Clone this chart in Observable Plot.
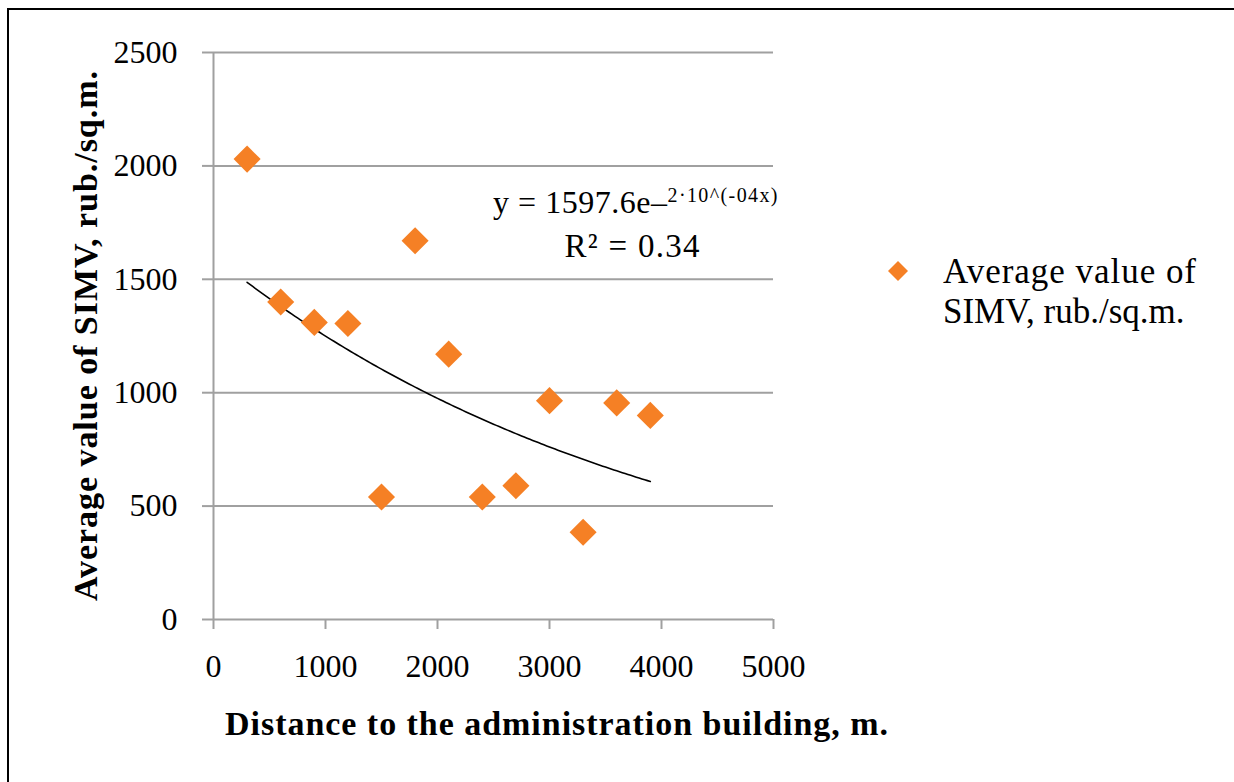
<!DOCTYPE html>
<html><head><meta charset="utf-8">
<script src="https://cdn.jsdelivr.net/npm/d3@7"></script>
<script src="https://cdn.jsdelivr.net/npm/@observablehq/plot@0.6"></script>
<style>
html,body{margin:0;padding:0;background:#fff;overflow:hidden;}
#wrap{position:relative;width:1234px;height:782px;overflow:hidden;}
#frame{position:absolute;left:7px;top:8px;width:1400px;height:1000px;border:2px solid #000;box-sizing:border-box;pointer-events:none;}
#chart{position:absolute;left:0;top:0;}
</style>
</head><body>
<div id="wrap"><div id="frame"></div><div id="chart"></div></div>
<script>
// Data
const distance = [300, 600, 900, 1200, 1500, 1800, 2100, 2400, 2700, 3000, 3300, 3600, 3900];
const simv = [2030, 1400, 1310, 1305, 540, 1670, 1170, 540, 590, 965, 385, 955, 900];
const xTicks = [0, 1000, 2000, 3000, 4000, 5000];
const yTicks = [0, 500, 1000, 1500, 2000, 2500];
const seriesName = ["Average value of", "SIMV, rub./sq.m."];
const xTitle = "Distance to the administration building, m.";
const yTitle = "Average value of SIMV, rub./sq.m.";
const eqMain = "y = 1597.6e–";
const eqSup = "2·10^(-04x)";
const r2Text = "R² = 0.34";

const FONT = "'Liberation Serif', 'Times New Roman', serif";
const ORANGE = "#f58025";
const GRID = "#a0a0a0";

const points = distance.map((d, i) => ({x: d, y: simv[i]}));

// Exponential trend (least squares on ln y), as the spreadsheet trendline does
const lnY = simv.map(Math.log);
const mx = d3.mean(distance), my = d3.mean(lnY);
const b = d3.sum(distance, (x, i) => (x - mx) * (lnY[i] - my)) / d3.sum(distance, x => (x - mx) ** 2);
const a = Math.exp(my - b * mx);
const trend = d3.range(distance[0], distance[distance.length - 1] + 1, 25).map(x => ({x, y: a * Math.exp(b * x)}));

const plot = Plot.plot({
  width: 1234,
  height: 782,
  marginLeft: 213,
  marginRight: 461,
  marginTop: 52,
  marginBottom: 163,
  style: {fontFamily: FONT, background: "transparent", color: "#000"},
  x: {domain: [0, 5000]},
  y: {domain: [0, 2500]},
  marks: [
    Plot.gridY(yTicks, {stroke: GRID, strokeOpacity: 1, strokeWidth: 2}),
    Plot.ruleX([0], {y1: 0, y2: 2500, stroke: GRID, strokeWidth: 2}),
    Plot.axisY(yTicks, {tickSize: 11, tickPadding: 25, fontSize: 32, stroke: GRID, strokeWidth: 2, label: null, tickFormat: d => String(d)}),
    Plot.axisX(xTicks, {tickSize: 10, tickPadding: 25, fontSize: 32, stroke: GRID, strokeWidth: 2, label: null, tickFormat: d => String(d)}),
    Plot.line(trend, {x: "x", y: "y", stroke: "#000", strokeWidth: 1.6}),
    Plot.dot(points, {x: "x", y: "y", symbol: "diamond2", r: 12.2, fill: ORANGE, stroke: "none"}),
    Plot.text([yTitle], {frameAnchor: "left", dx: -127, rotate: -90, textAnchor: "middle", lineAnchor: "middle", fontSize: 34, fontWeight: "bold", fill: "#000"}),
    Plot.text([xTitle], {frameAnchor: "bottom", dx: 63, dy: 105, textAnchor: "middle", lineAnchor: "middle", fontSize: 34, fontWeight: "bold", fill: "#000"})
  ]
});
document.getElementById("chart").appendChild(plot);

const svg = d3.select(plot);
// stretch the bold titles to the reference widths
svg.selectAll("text").filter(function() { return this.textContent === xTitle; })
  .attr("textLength", 663).attr("lengthAdjust", "spacing");
svg.selectAll("text").filter(function() { return this.textContent === yTitle; })
  .attr("textLength", 530).attr("lengthAdjust", "spacing");

// Trendline equation
const eq = svg.append("text").attr("x", 493).attr("y", 213).attr("text-anchor", "start")
  .attr("font-family", FONT).attr("font-size", 32).attr("fill", "#000");
eq.append("tspan").attr("textLength", 174).attr("lengthAdjust", "spacing").text(eqMain);
eq.append("tspan").attr("font-size", 20).attr("dy", -11).attr("textLength", 110).attr("lengthAdjust", "spacing").text(eqSup);
svg.append("text").attr("x", 632).attr("y", 257).attr("text-anchor", "middle")
  .attr("font-family", FONT).attr("font-size", 33).attr("fill", "#000")
  .attr("textLength", 135).attr("lengthAdjust", "spacing").text(r2Text);

// Legend
svg.append("path").attr("transform", "translate(898,271)")
  .attr("d", d3.symbol(d3.symbolDiamond2, 255)()).attr("fill", ORANGE);
seriesName.forEach((t, i) => {
  const el = svg.append("text").attr("x", 943).attr("y", 283 + i * 40).attr("text-anchor", "start")
    .attr("font-family", FONT).attr("font-size", 35).attr("fill", "#000").text(t);
  if (i === 0) el.attr("textLength", 253).attr("lengthAdjust", "spacing");
});
</script>
</body></html>
